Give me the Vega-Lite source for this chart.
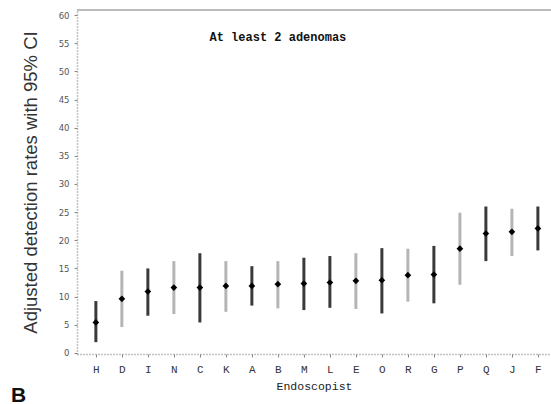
{
  "$schema": "https://vega.github.io/schema/vega-lite/v6.json",
  "autosize": "none",
  "width": 474,
  "height": 344,
  "padding": {"left": 77, "top": 10, "right": 0, "bottom": 50},
  "background": "white",
  "config": {"view": {"stroke": null}, "axisY": {"labelOverlap": false}},
  "title": {"text": "B", "orient": "bottom", "anchor": "start", "frame": "group", "dx": -66, "offset": -7, "font": "Liberation Sans", "fontSize": 21, "fontWeight": "bold", "color": "#111"},
  "data": {"values": [
    {"e": "H", "rate": 5.4, "lo": 1.9, "hi": 9.2, "tone": "dark"},
    {"e": "D", "rate": 9.6, "lo": 4.6, "hi": 14.6, "tone": "light"},
    {"e": "I", "rate": 10.9, "lo": 6.6, "hi": 15.0, "tone": "dark"},
    {"e": "N", "rate": 11.6, "lo": 6.9, "hi": 16.3, "tone": "light"},
    {"e": "C", "rate": 11.6, "lo": 5.4, "hi": 17.7, "tone": "dark"},
    {"e": "K", "rate": 11.9, "lo": 7.3, "hi": 16.3, "tone": "light"},
    {"e": "A", "rate": 11.9, "lo": 8.4, "hi": 15.4, "tone": "dark"},
    {"e": "B", "rate": 12.2, "lo": 7.9, "hi": 16.3, "tone": "light"},
    {"e": "M", "rate": 12.3, "lo": 7.6, "hi": 16.9, "tone": "dark"},
    {"e": "L", "rate": 12.5, "lo": 8.0, "hi": 17.2, "tone": "dark"},
    {"e": "E", "rate": 12.8, "lo": 7.8, "hi": 17.7, "tone": "light"},
    {"e": "O", "rate": 12.9, "lo": 7.0, "hi": 18.6, "tone": "dark"},
    {"e": "R", "rate": 13.8, "lo": 9.1, "hi": 18.5, "tone": "light"},
    {"e": "G", "rate": 13.9, "lo": 8.8, "hi": 19.0, "tone": "dark"},
    {"e": "P", "rate": 18.5, "lo": 12.1, "hi": 24.9, "tone": "light"},
    {"e": "Q", "rate": 21.2, "lo": 16.3, "hi": 26.0, "tone": "dark"},
    {"e": "J", "rate": 21.5, "lo": 17.2, "hi": 25.6, "tone": "light"},
    {"e": "F", "rate": 22.1, "lo": 18.2, "hi": 26.0, "tone": "dark"}
  ]},
  "encoding": {
    "x": {"field": "e", "type": "nominal", "sort": null,
      "scale": {"type": "point", "padding": 0.615, "align": 0.59},
      "axis": {"title": "Endoscopist", "labelAngle": 0, "labelFont": "Liberation Mono", "labelFontSize": 11, "labelColor": "#333",
        "titleFont": "Liberation Mono", "titleFontSize": 11.5, "titleFontWeight": "normal", "titleColor": "#222", "titlePadding": 6,
        "domainColor": "#888", "domainDash": [1, 2], "domainWidth": 1.5, "tickColor": "#888", "tickSize": 3, "labelPadding": 6}},
    "y": {"type": "quantitative",
      "scale": {"domain": [-0.2, 60.9], "nice": false, "zero": false},
      "axis": {"title": "Adjusted detection rates with 95% CI", "values": [0,5,10,15,20,25,30,35,40,45,50,55,60],
        "labelOverlap": false, "labelBound": false, "labelFlush": false,
        "grid": false, "labelFont": "DejaVu Sans", "labelFontSize": 8.5, "labelColor": "#555", "labelPadding": 5,
        "titleFont": "Liberation Sans", "titleFontSize": 18.5, "titleFontWeight": "normal", "titleColor": "#333", "titlePadding": 18,
        "domainColor": "#888", "domainDash": [1, 2], "domainWidth": 1.5, "tickColor": "#888", "tickSize": 3}}
  },
  "layer": [
    {
      "mark": {"type": "rule", "strokeWidth": 1.5, "color": "#bbbbbb"},
      "encoding": {"x": {"value": 0}, "x2": {"value": 474}, "y": {"datum": 60.9}}
    },
    {
      "mark": {"type": "rule", "strokeWidth": 3},
      "encoding": {
        "y": {"field": "lo"},
        "y2": {"field": "hi"},
        "color": {"field": "tone", "type": "nominal", "scale": {"domain": ["dark", "light"], "range": ["#3a3a3a", "#b5b5b5"]}, "legend": null}
      }
    },
    {
      "mark": {"type": "point", "shape": "diamond", "filled": true, "color": "#000", "size": 45, "opacity": 1},
      "encoding": {"y": {"field": "rate"}}
    },
    {
      "data": {"values": [{"label": "At least 2 adenomas"}]},
      "mark": {"type": "text", "font": "Liberation Mono", "fontSize": 12, "fontWeight": "bold", "color": "#111", "align": "center", "baseline": "middle"},
      "encoding": {"x": {"datum": "B"}, "y": {"datum": 56.1}, "text": {"field": "label"}}
    }
  ]
}
